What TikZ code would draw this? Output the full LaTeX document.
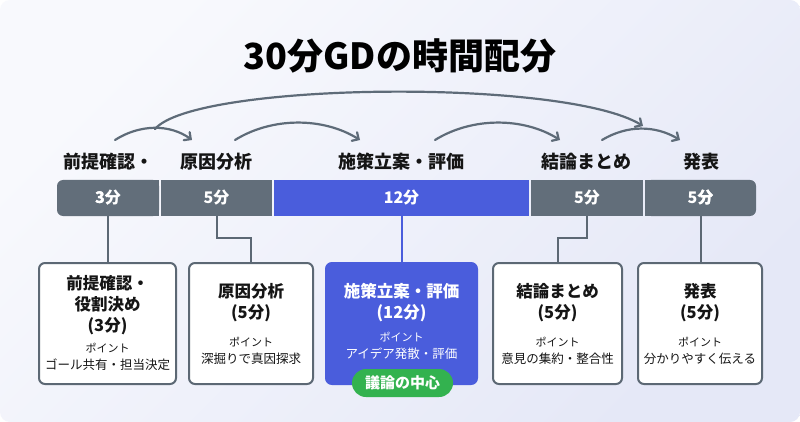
\documentclass[tikz,border=0pt]{standalone}
\usepackage{fontspec}
\setmainfont{Noto Sans CJK JP}
\usetikzlibrary{arrows.meta,backgrounds}
\definecolor{barg}{HTML}{626E7A}
\definecolor{bord}{HTML}{5C6874}
\definecolor{blu}{HTML}{4A5DDC}
\definecolor{grn}{HTML}{33B24F}
\definecolor{arr}{HTML}{5E6B78}
\definecolor{bgA}{HTML}{F8F9FD}
\definecolor{bgB}{HTML}{E5E8F7}
\definecolor{txt}{HTML}{151515}
\begin{document}
\begin{tikzpicture}[x=1pt,y=-1pt,
  seg/.style={fill=barg, text=white, font=\bfseries\fontsize{16}{18}\selectfont, minimum height=36, inner sep=0},
  phase/.style={text=txt, font=\bfseries\fontsize{18}{20}\selectfont, inner sep=0},
  card/.style={draw=bord, line width=2, fill=white, rounded corners=6, minimum height=121, inner sep=0},
  ctitle/.style={text=txt, align=center, font=\bfseries\fontsize{16.5}{21}\selectfont, inner sep=0},
  cpoint/.style={text=txt, font=\fontsize{11}{13}\selectfont, inner sep=0},
  cdetail/.style={text=txt, font=\fontsize{12.5}{15}\selectfont, inner sep=0},
  conn/.style={draw=bord, line width=2},
  arrw/.style={draw=arr, line width=2.2, line cap=round, -{Straight Barb[length=5pt,width=10pt,line cap=round]}}
]
\useasboundingbox (0,0) rectangle (800,422);
\fill[white] (0,0) rectangle (800,422);
\shade[shading=axis, top color=bgA, bottom color=bgB, shading angle=45, rounded corners=10] (0,0) rectangle (800,422);

\node[text=black, font=\bfseries\fontsize{36}{42}\selectfont, inner sep=0] (title) at (400,56) {30分GDの時間配分};

% phase labels
\node[phase] (p1) at (108,162) {前提確認・};
\node[phase] (p2) at (216,162) {原因分析};
\node[phase] (p3) at (401,162) {施策立案・評価};
\node[phase] (p4) at (586,162) {結論まとめ};
\node[phase] (p5) at (701,162) {発表};

% bar
\node[seg, minimum width=102, rounded corners=6] (s1) at (108,198) {3分};
\node[seg, minimum width=111] (s2) at (216.5,198) {5分};
\node[seg, minimum width=255, fill=blu] (s3) at (401.5,198) {12分};
\node[seg, minimum width=112] (s4) at (587,198) {5分};
\node[seg, minimum width=111, rounded corners=6] (s5) at (700.5,198) {5分};
\fill[barg] (s1.north) rectangle (s1.south east);
\fill[barg] (s5.north west) rectangle (s5.south);
\node[text=white, font=\bfseries\fontsize{16}{18}\selectfont, inner sep=0] at (s1.center) {3分};
\node[text=white, font=\bfseries\fontsize{16}{18}\selectfont, inner sep=0] at (s5.center) {5分};

% arrows
\coordinate (a1s) at (115,140); \coordinate (a1e) at (192,140);
\coordinate (a2s) at (235,140); \coordinate (a2e) at (360,140);
\coordinate (a3s) at (435,140); \coordinate (a3e) at (560,140);
\coordinate (a4s) at (602,140); \coordinate (a4e) at (680,140);
\coordinate (bs) at (155,129); \coordinate (be) at (643,126);
\draw[arrw] (a1s) .. controls (140,124) and (170,124) .. (a1e);
\draw[arrw] (a2s) .. controls (272,117) and (323,117) .. (a2e);
\draw[arrw] (a3s) .. controls (472,117) and (523,117) .. (a3e);
\draw[arrw] (a4s) .. controls (627,125) and (655,125) .. (a4e);
\draw[arrw] (bs) .. controls (195,82) and (565,78) .. (be);

% cards
\node[card, minimum width=137] (b1) at (107.5,323.5) {};
\node[card, minimum width=124] (b2) at (251,323.5) {};
\node[card, minimum width=151, draw=blu, fill=blu] (b3) at (401.5,323.5) {};
\node[card, minimum width=129] (b4) at (557.5,323.5) {};
\node[card, minimum width=124] (b5) at (700,323.5) {};

% connectors
\draw[conn] (s1.south) -- (s1.south |- b1.north);
\draw[conn] (s2.south) -- ++(0,22) -| (b2.north);
\draw[conn, draw=blu] (s3.south) -- (s3.south |- b3.north);
\draw[conn] (s4.south) -- ++(0,22) -| (b4.north);
\draw[conn] (s5.south) -- (s5.south |- b5.north);

% card texts
\node[ctitle] (t1) at (107.5,305) {前提確認・\\役割決め\\(3分)};
\node[cpoint] (q1) at (107.5,348) {ポイント};
\node[cdetail] (d1) at (107.5,365) {ゴール共有・担当決定};

\node[ctitle] (t2) at (251,303) {原因分析\\(5分)};
\node[cpoint] (q2) at (251,342) {ポイント};
\node[cdetail] (d2) at (251,359) {深掘りで真因探求};

\node[ctitle, text=white] (t3) at (401.5,302.5) {施策立案・評価\\(12分)};
\node[cpoint, text=white] (q3) at (401.5,337) {ポイント};
\node[cdetail, text=white] (d3) at (401.5,353.5) {アイデア発散・評価};

\node[ctitle] (t4) at (557.5,303) {結論まとめ\\(5分)};
\node[cpoint] (q4) at (557.5,342) {ポイント};
\node[cdetail] (d4) at (557.5,359) {意見の集約・整合性};

\node[ctitle] (t5) at (700,303) {発表\\(5分)};
\node[cpoint] (q5) at (700,342) {ポイント};
\node[cdetail] (d5) at (700,359) {分かりやすく伝える};

\node[fill=grn, text=white, rounded corners=14, minimum width=101, minimum height=28, inner sep=0, font=\bfseries\fontsize{15}{18}\selectfont] (pill) at (402.5,383) {議論の中心};
\end{tikzpicture}
\end{document}
